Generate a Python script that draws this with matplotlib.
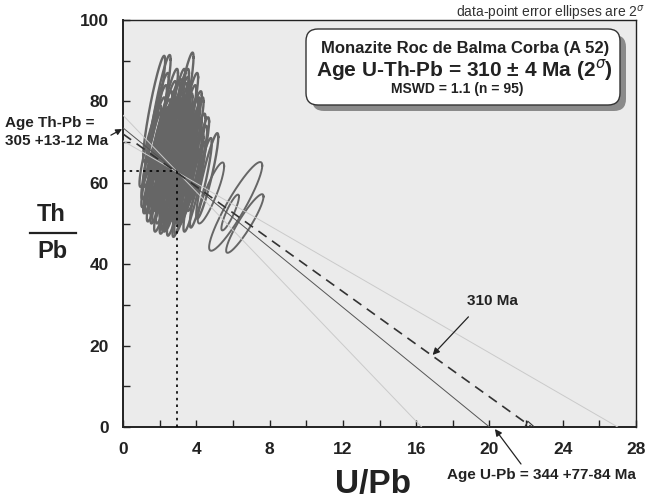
import numpy as np
import matplotlib.pyplot as plt
from matplotlib.patches import FancyBboxPatch
from matplotlib.transforms import IdentityTransform

plt.rcParams['font.family'] = ['Liberation Sans', 'DejaVu Sans']
NARROW = ['Liberation Sans Narrow', 'Liberation Sans', 'DejaVu Sans']

# cluster ellipses: centre U/Pb, centre Th/Pb, 2-sigma half height in Th/Pb
u_c = [1.7, 2.0, 3.25, 2.8, 2.3, 3.5, 3.8, 4.1, 4.6,
       1.7, 2.1, 2.6, 2.8, 3.3, 3.9, 4.25,
       1.9, 2.4, 2.6, 3.0, 3.1,
       1.8, 2.1, 2.5, 2.7, 2.9, 3.2, 3.4, 3.7,
       1.7, 2.0, 2.2, 2.4, 2.6, 2.8, 3.0, 3.2, 3.5, 3.6, 3.9,
       1.6, 1.9, 2.1, 2.3, 2.5, 2.7, 2.9, 3.1, 3.3, 3.5, 3.7, 4.0,
       1.6, 1.8, 2.0, 2.2, 2.4, 2.6, 2.8, 3.0, 3.2, 3.4, 3.6, 3.8,
       1.9, 2.2, 2.4, 2.7, 2.9, 3.1, 3.3, 3.5, 3.7,
       2.3, 2.6, 3.0, 3.4, 3.6,
       2.0, 2.5, 2.8, 3.1, 2.3, 3.3, 2.9, 2.1,
       1.5, 3.0, 3.6, 2.6]
th_c = [78.2, 78.4, 79.0, 76.0, 74.0, 75.0, 70.0, 64.6, 61.7,
        62.5, 61.0, 59.4, 60.0, 58.7, 59.0, 60.0,
        76.0, 77.0, 75.5, 77.0, 74.5,
        73.0, 72.5, 73.0, 72.0, 73.5, 72.0, 73.0, 72.5,
        70.0, 70.5, 69.0, 70.0, 70.5, 69.5, 70.0, 69.0, 70.0, 68.5, 67.0,
        67.0, 66.5, 67.5, 66.0, 67.0, 66.5, 67.5, 66.0, 67.0, 65.5, 66.0, 64.0,
        64.0, 63.5, 64.5, 63.0, 64.0, 63.5, 64.5, 63.0, 64.0, 62.5, 63.5, 62.0,
        60.5, 61.5, 60.0, 61.0, 61.5, 60.5, 61.5, 60.0, 61.0,
        58.0, 57.5, 58.0, 57.5, 58.5,
        68.0, 65.5, 68.0, 71.5, 71.0, 64.5, 59.5, 65.0,
        69.0, 75.0, 71.0, 62.0]
sth_c = [13, 13, 13, 12, 11, 12, 11, 11.5, 10.5,
         10, 11, 11, 12, 12, 11, 11,
         11, 11, 10, 11, 10,
         11, 10, 12, 10, 11, 10, 11, 10,
         11, 10, 12, 11, 10, 12, 11, 10, 11, 10, 10,
         11, 12, 10, 11, 12, 10, 11, 12, 10, 11, 10, 10,
         10, 11, 12, 10, 11, 12, 10, 11, 12, 10, 11, 10,
         10, 11, 10, 12, 11, 10, 11, 10, 10,
         10, 10, 11, 10, 9,
         11, 12, 10, 11, 10, 12, 11, 10,
         10, 11, 10, 12]
SU_C = 0.6
RHO_C = 0.91

# isolated ellipses to the right of the cluster
u_o = [4.8, 6.15, 5.85, 6.65]
th_o = [57.5, 54.2, 52.7, 50.0]
su_o = [0.72, 1.45, 0.48, 1.02]
sth_o = [7.5, 10.9, 4.4, 7.2]
rho_o = [0.88, 0.92, 0.88, 0.92]

# lines: Th/Pb intercept (U/Pb = 0) and U/Pb intercept (Th/Pb = 0)
fit_line = (73.5, 20.0)
age_line = (72.0, 22.3)
env_steep = (76.6, 16.3)
env_flat = (70.3, 27.0)
centroid = (2.93, 62.9)


def px(x):
    return x / 646


def py(y):
    return 1 - y / 500


def draw_ellipse(ax, cx, cy, sx, sy, r, lw):
    t = np.linspace(0, 2 * np.pi, 150)
    xs = cx + sx * np.cos(t)
    ys = cy + sy * (r * np.cos(t) + np.sqrt(1 - r * r) * np.sin(t))
    ax.plot(xs, ys, color='#666666', lw=lw, zorder=2)


fig = plt.figure(figsize=(6.46, 5.0), dpi=100)
ax = fig.add_axes([px(123), py(427), (636 - 123) / 646, (427 - 20) / 500])
ax.set_facecolor('#ebebeb')
ax.set_xlim(0, 28)
ax.set_ylim(0, 100)

for cx, cy, sy in zip(u_c, th_c, sth_c):
    draw_ellipse(ax, cx, cy, SU_C, sy, RHO_C, 1.7)
for cx, cy, sx, sy, r in zip(u_o, th_o, su_o, sth_o, rho_o):
    draw_ellipse(ax, cx, cy, sx, sy, r, 1.4)

for a, b in (env_steep, env_flat):
    ax.plot([0, b], [a, 0], color='#cacaca', lw=0.7, zorder=3)
ax.plot([0, fit_line[1]], [fit_line[0], 0], color='#555555', lw=0.7, zorder=3)
ax.plot([0, age_line[1]], [age_line[0], 0], color='#333333', lw=1.2,
        dashes=(6, 4), zorder=4)
ax.plot([age_line[1] - 0.35, age_line[1] - 0.2, age_line[1] + 0.1],
        [0.2, 1.4, 0.2], color='#333333', lw=0.8, zorder=4)

ax.plot([0, centroid[0]], [centroid[1], centroid[1]], color='black', lw=1.2,
        dashes=(1.5, 2.5), zorder=4)
ax.plot([centroid[0], centroid[0]], [0, centroid[1]], color='black', lw=1.2,
        dashes=(1.5, 2.5), zorder=4)

ax.set_xticks(range(0, 29, 4))
ax.set_xticks(range(2, 28, 4), minor=True)
ax.set_yticks(range(0, 101, 20))
ax.set_yticks(range(10, 100, 20), minor=True)
ax.tick_params(which='both', direction='in', length=5, width=1, color='#222222')
ax.tick_params(axis='x', which='major', pad=11, labelsize=12.5)
ax.tick_params(axis='y', which='major', pad=10, labelsize=12.5)
for lab in ax.get_xticklabels() + ax.get_yticklabels():
    lab.set_fontweight('bold')
    lab.set_color('#222222')
for sp in ax.spines.values():
    sp.set_color('#222222')
    sp.set_linewidth(1.0)
ax.spines['left'].set_linewidth(1.4)
ax.spines['bottom'].set_linewidth(1.4)

# axis titles
fig.text(px(373), py(484), 'U/Pb', ha='center', va='center', fontsize=24,
         fontweight='bold', color='#222222')
fig.text(px(51), py(215), 'Th', ha='center', va='center', fontsize=17,
         fontweight='bold', color='#222222')
fig.text(px(52), py(251), 'Pb', ha='center', va='center', fontsize=17,
         fontweight='bold', color='#222222')
fig.add_artist(plt.Line2D([px(30), px(76)], [py(233), py(233)],
                          color='#222222', lw=1.6))

fig.text(px(645), py(13), r'data-point error ellipses are 2$^{\sigma}$',
         ha='right', va='center', fontsize=10, color='#333333')

# title box with shadow
shadow = FancyBboxPatch((312, 500 - 111), 314, 76,
                        boxstyle='round,pad=0,rounding_size=12',
                        transform=IdentityTransform(), fc='#8a8a8a', ec='none',
                        zorder=5)
box = FancyBboxPatch((306, 500 - 105), 314, 76,
                     boxstyle='round,pad=0,rounding_size=12',
                     transform=IdentityTransform(), fc='white', ec='#333333',
                     lw=1.0, zorder=6)
fig.add_artist(shadow)
fig.add_artist(box)
fig.text(px(465), py(48), 'Monazite Roc de Balma Corba (A 52)', ha='center',
         va='center', fontsize=12, fontweight='bold', color='#222222', zorder=7)
fig.text(px(464), py(70), r'Age U-Th-Pb = 310 ± 4 Ma (2$^{\sigma}$)',
         ha='center', va='center', fontsize=15, fontweight='bold',
         color='#222222', zorder=7)
fig.text(px(457), py(89), 'MSWD = 1.1 (n = 95)', ha='center', va='center',
         fontsize=10, fontweight='bold', color='#222222', zorder=7)

# annotations
ax.annotate('Age Th-Pb =\n305 +13-12 Ma', xy=(-0.05, 73.2),
            xytext=(px(5), py(132)), textcoords='figure fraction',
            ha='left', va='center', fontsize=11, fontweight='bold',
            family=NARROW, color='#222222', linespacing=1.3,
            annotation_clip=False,
            arrowprops=dict(arrowstyle='-|>', color='#222222', lw=0.9,
                            shrinkA=0, shrinkB=0, mutation_scale=9,
                            relpos=(1.0, 0.35)))
ax.annotate('310 Ma', xy=(16.9, 17.7), xytext=(px(492), py(301)),
            textcoords='figure fraction', ha='center', va='center',
            fontsize=11, fontweight='bold', family=NARROW, color='#222222',
            annotation_clip=False,
            arrowprops=dict(arrowstyle='-|>', color='#222222', lw=0.9,
                            shrinkA=6, shrinkB=0, mutation_scale=10,
                            relpos=(0.2, 0.0)))
ax.annotate('', xy=(20.3, -0.5), xytext=(px(521), py(464)),
            textcoords='figure fraction', annotation_clip=False,
            arrowprops=dict(arrowstyle='-|>', color='#222222', lw=0.9,
                            shrinkA=0, shrinkB=0, mutation_scale=10))
fig.text(px(541), py(475), 'Age U-Pb = 344 +77-84 Ma', ha='center',
         va='center', fontsize=11, fontweight='bold', family=NARROW,
         color='#222222')

fig.savefig('out.png', dpi=100)
